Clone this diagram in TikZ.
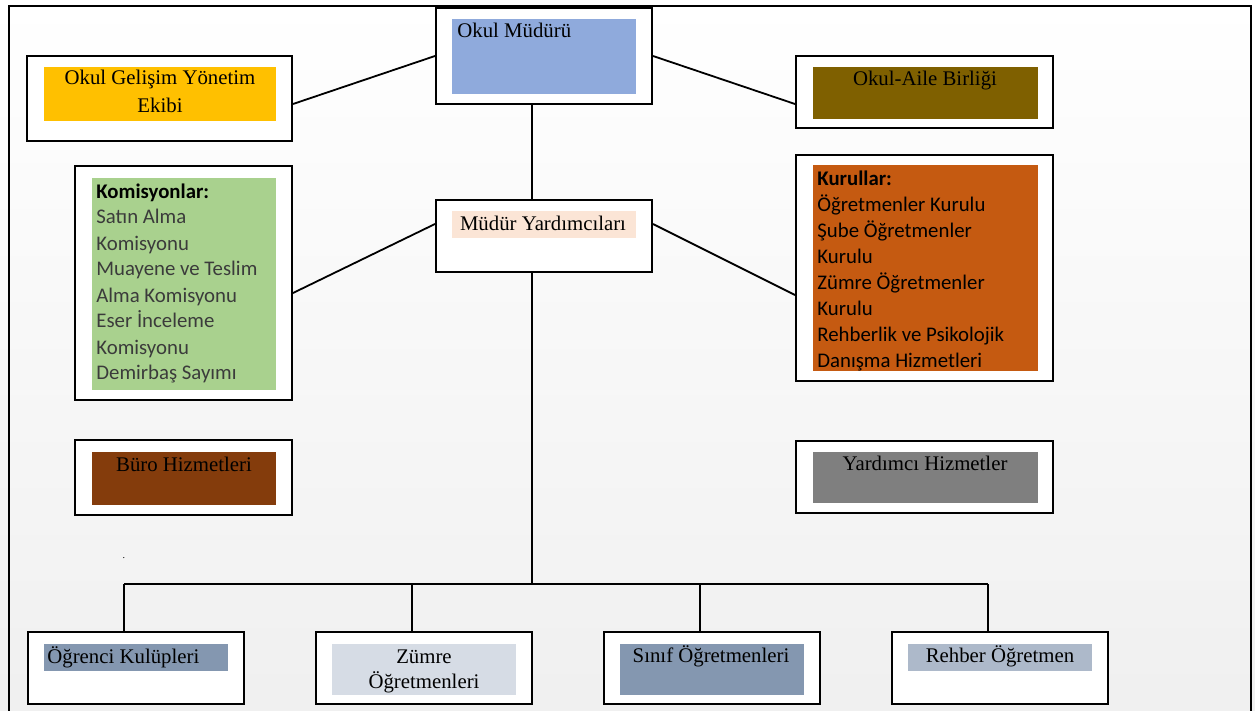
\documentclass[tikz,border=0pt]{standalone}
\usepackage{fontspec}
\setmainfont{Liberation Serif}
\newfontfamily\calibri{Carlito}
\usepackage{tikz}
\usetikzlibrary{fit}
\definecolor{mudurc}{HTML}{8FAADC}
\definecolor{gelisimc}{HTML}{FFC000}
\definecolor{ailec}{HTML}{7F6000}
\definecolor{yardc}{HTML}{FBE5D6}
\definecolor{komisyonc}{HTML}{A9D18E}
\definecolor{kurulc}{HTML}{C55A11}
\definecolor{buroc}{HTML}{843C0C}
\definecolor{hizmetc}{HTML}{7F7F7F}
\definecolor{ogrencic}{HTML}{8497B0}
\definecolor{zumrec}{HTML}{D6DCE5}
\definecolor{sinifc}{HTML}{8497B0}
\definecolor{rehberc}{HTML}{ADB9CA}
\definecolor{komtext}{HTML}{3B3B3B}
\tikzset{
  unitbox/.style={draw=black, line width=1pt, fill=white, inner sep=0pt},
  link/.style={line width=0.9pt},
  tnr/.style={font=\fontsize{10.4}{13}\selectfont, inner sep=0pt},
  cal/.style={font=\calibri\fontsize{10.4}{13}\selectfont, inner sep=0pt, align=left},
}

\begin{document}
\begin{tikzpicture}[x=0.5pt, y=-0.5pt]
        \useasboundingbox (0,0) rectangle (1255,711);
        \shade[top color=white, bottom color=black!6] (0,0) rectangle (1255,711);
        \draw[line width=1.2pt] (9,711) -- (9,6) -- (1251,6) -- (1251,711);

        \node[unitbox, fit={(436,8) (652,104)}] (mudur) {};
        \node[unitbox, fit={(27,56) (292,141)}] (gelisim) {};
        \node[unitbox, fit={(796,56) (1053,128)}] (aile) {};
        \node[unitbox, fit={(436,200) (652,272)}] (yard) {};
        \node[unitbox, fit={(75,166) (292,400)}] (komisyon) {};
        \node[unitbox, fit={(796,155) (1053,381)}] (kurul) {};
        \node[unitbox, fit={(75,440) (292,515)}] (buro) {};
        \node[unitbox, fit={(796,441) (1053,513)}] (hizmet) {};
        \node[unitbox, fit={(28,632) (244,704)}] (ogrenci) {};
        \node[unitbox, fit={(316,632) (532,704)}] (zumre) {};
        \node[unitbox, fit={(604,632) (820,704)}] (sinif) {};
        \node[unitbox, fit={(892,632) (1108,704)}] (rehber) {};

        \fill[mudurc] (452,19) rectangle (636,94);
        \fill[gelisimc] (44,67) rectangle (276,121);
        \fill[ailec] (813,67) rectangle (1038,119);
        \fill[yardc] (452,211) rectangle (636,238);
        \fill[komisyonc] (92,178) rectangle (276,390);
        \fill[kurulc] (813,165) rectangle (1038,371);
        \fill[buroc] (92,452) rectangle (276,505);
        \fill[hizmetc] (813,452) rectangle (1038,503);
        \fill[ogrencic] (44,644) rectangle (228,671);
        \fill[zumrec] (332,644) rectangle (516,695);
        \fill[sinifc] (620,644) rectangle (804,695);
        \fill[rehberc] (908,644) rectangle (1092,671);

        \node[tnr, anchor=base west] (mudurt) at (457,38) {Okul Müdürü};
        \node[tnr, anchor=base, align=center] (gelisimt) at (160,113) {Okul Gelişim Yönetim\\[1pt]Ekibi};
        \node[tnr, anchor=base] (ailet) at (925,86) {Okul-Aile Birliği};
        \node[tnr, anchor=base] (yardt) at (543,231) {Müdür Yardımcıları};
        \node[cal, anchor=base west, text=komtext] (komisyont) at (96,380) {\textbf{\color{black}Komisyonlar:}\\Satın Alma\\Komisyonu\\Muayene ve Teslim\\Alma Komisyonu\\Eser İnceleme\\Komisyonu\\Demirbaş Sayımı};
        \node[cal, anchor=base west] (kurult) at (817,368) {\textbf{Kurullar:}\\Öğretmenler Kurulu\\Şube Öğretmenler\\Kurulu\\Zümre Öğretmenler\\Kurulu\\Rehberlik ve Psikolojik\\Danışma Hizmetleri};
        \node[tnr, anchor=base] (burot) at (184,472) {Büro Hizmetleri};
        \node[tnr, anchor=base] (hizmett) at (925,471) {Yardımcı Hizmetler};
        \node[tnr, anchor=base west] (ogrencit) at (47,663) {Öğrenci Kulüpleri};
        \node[tnr, anchor=base, align=center] (zumret) at (424,689) {Zümre\\Öğretmenleri};
        \node[tnr, anchor=base] (sinift) at (711,662) {Sınıf Öğretmenleri};
        \node[tnr, anchor=base] (rehbert) at (1000,662) {Rehber Öğretmen};
        \node[font=\tiny, inner sep=0pt] (nokta) at (124,558) {.};

        \coordinate (busl) at (124,584);
        \coordinate (busr) at (988,584);
        \coordinate (busm) at (532,584);

        \draw[link] (mudur.west) -- ([yshift=-2.75pt]gelisim.east);
        \draw[link] (mudur.east) -- ([yshift=-6pt]aile.west);
        \draw[link] ([xshift=-6pt]mudur.south) -- ([xshift=-6pt]yard.north);
        \draw[link] ([yshift=6pt]yard.west) -- ([yshift=-5pt]komisyon.east);
        \draw[link] ([yshift=6pt]yard.east) -- ([yshift=-13.5pt]kurul.west);
        \draw[link] ([xshift=-6pt]yard.south) -- (busm);
        \draw[link] (busl) -- (busr);
        \draw[link] ([xshift=-6pt]ogrenci.north) -- ([xshift=-6pt]ogrenci.north |- busl);
        \draw[link] ([xshift=-6pt]zumre.north) -- ([xshift=-6pt]zumre.north |- busl);
        \draw[link] ([xshift=-6pt]sinif.north) -- ([xshift=-6pt]sinif.north |- busl);
        \draw[link] ([xshift=-6pt]rehber.north) -- ([xshift=-6pt]rehber.north |- busl);
\end{tikzpicture}
\end{document}
